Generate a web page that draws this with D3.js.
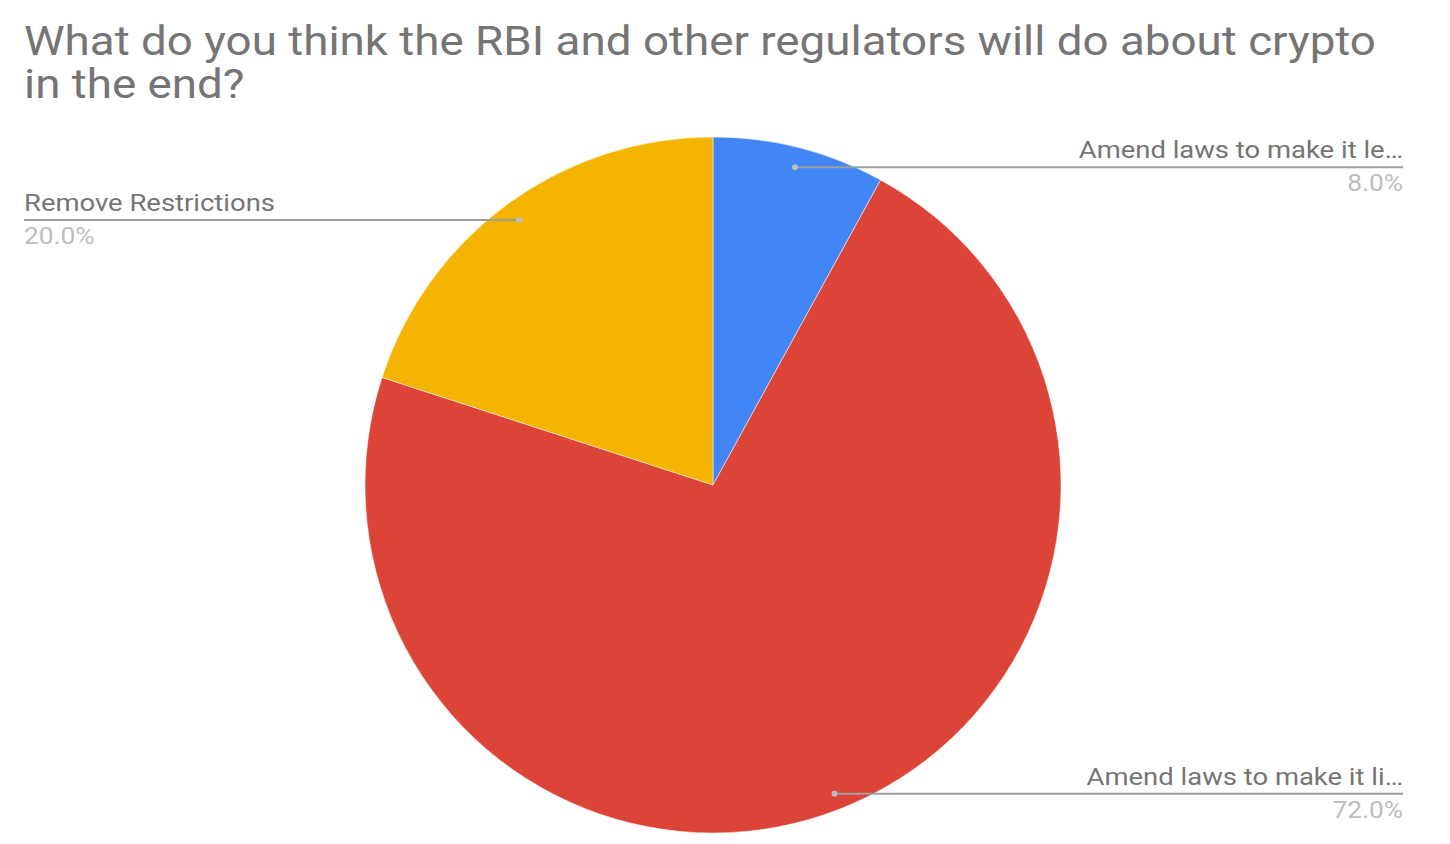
<!DOCTYPE html>
<html>
<head>
<meta charset="utf-8">
<script src="https://cdn.jsdelivr.net/npm/d3@7"></script>
<style>
  html, body { margin: 0; padding: 0; background: #fff; }
  svg { display: block; }
  text { font-family: Roboto, "Noto Sans", sans-serif; }
</style>
</head>
<body>
<svg id="chart" width="1450" height="844"></svg>
<script>
const titleLines = ["What do you think the RBI and other regulators will do about crypto", "in the end?"];
const categories = ["Amend laws to make it le\u2026", "Amend laws to make it li\u2026", "Remove Restrictions"];
const values = [8.0, 72.0, 20.0];
const colors = ["#4285F4", "#DB4437", "#F4B400"];

const svg = d3.select("#chart");
const cx = 713, cy = 485, R = 348;
const SX = 1.144; // horizontal stretch of the reference text

function stretchedText(x, y, txt, size, fill, anchor) {
  return svg.append("text")
    .attr("transform", `translate(${x},${y}) scale(${SX},1)`)
    .attr("text-anchor", anchor || "start")
    .attr("font-size", size)
    .attr("fill", fill)
    .text(txt);
}

titleLines.forEach((t, i) => stretchedText(24, 55 + i * 43, t, 40, "#757575"));

const data = categories.map((c, i) => ({ name: c, value: values[i], color: colors[i] }));
const pie = d3.pie().value(d => d.value).sort(null);
const arcs = pie(data);
const arc = d3.arc().innerRadius(0).outerRadius(R);

const g = svg.append("g").attr("transform", `translate(${cx},${cy})`);
g.selectAll("path").data(arcs).join("path")
  .attr("d", arc)
  .attr("fill", d => d.data.color)
  .attr("stroke", "#fff")
  .attr("stroke-width", 0.5);

const total = d3.sum(values);
const dotR = 330;
const fmt = v => (v / total * 100).toFixed(1) + "%";
const leftX = 24, rightX = 1403;

arcs.forEach(a => {
  const mid = (a.startAngle + a.endAngle) / 2;
  const px = cx + dotR * Math.sin(mid);
  const py = cy - dotR * Math.cos(mid);
  const right = Math.sin(mid) >= 0;
  const ly = py + 2;
  const endX = right ? rightX : leftX;
  const anchor = right ? "end" : "start";
  svg.append("line")
    .attr("x1", px).attr("y1", ly).attr("x2", endX).attr("y2", ly)
    .attr("stroke", "#9e9e9e").attr("stroke-width", 2);
  svg.append("circle").attr("cx", px).attr("cy", ly).attr("r", 3).attr("fill", "#bdbdbd");
  stretchedText(endX, ly - 9, a.data.name, 24, "#757575", anchor);
  stretchedText(endX, ly + 24, fmt(a.data.value), 23, "#bdbdbd", anchor);
});
</script>
</body>
</html>
